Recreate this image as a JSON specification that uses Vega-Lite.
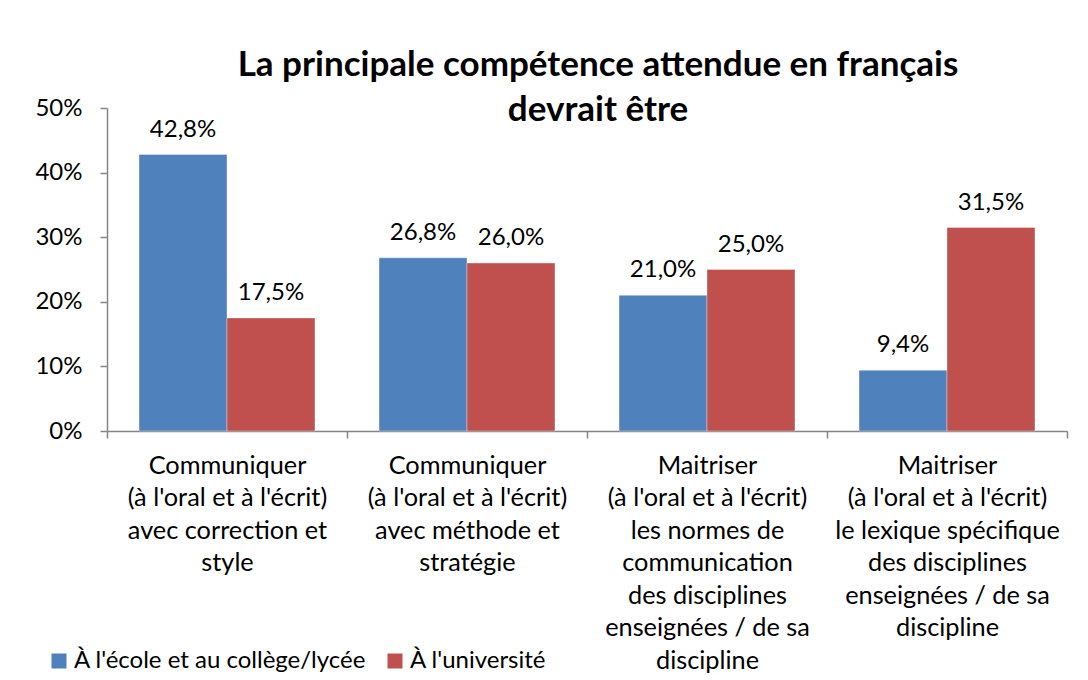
{
  "$schema": "https://vega.github.io/schema/vega-lite/v6.json",
  "autosize": {"type": "none"},
  "padding": {"left": 107, "top": 108, "right": 21, "bottom": 249},
  "width": 960,
  "height": 323,
  "background": "#ffffff",
  "title": {
    "text": ["La principale compétence attendue en français", "devrait être"],
    "anchor": "middle",
    "frame": "group",
    "dx": 11,
    "offset": -32,
    "font": "Lato",
    "fontSize": 35,
    "fontWeight": "bold",
    "color": "#000000",
    "lineHeight": 45
  },
  "data": {
    "values": [
      {"cat": "Communiquer|(à l'oral et à l'écrit)|avec correction et|style", "serie": "À l'école et au collège/lycée", "value": 0.428},
      {"cat": "Communiquer|(à l'oral et à l'écrit)|avec correction et|style", "serie": "À l'université", "value": 0.175},
      {"cat": "Communiquer|(à l'oral et à l'écrit)|avec méthode et|stratégie", "serie": "À l'école et au collège/lycée", "value": 0.268},
      {"cat": "Communiquer|(à l'oral et à l'écrit)|avec méthode et|stratégie", "serie": "À l'université", "value": 0.26},
      {"cat": "Maitriser|(à l'oral et à l'écrit)|les normes de|communication|des disciplines|enseignées / de sa|discipline", "serie": "À l'école et au collège/lycée", "value": 0.21},
      {"cat": "Maitriser|(à l'oral et à l'écrit)|les normes de|communication|des disciplines|enseignées / de sa|discipline", "serie": "À l'université", "value": 0.25},
      {"cat": "Maitriser|(à l'oral et à l'écrit)|le lexique spécifique|des disciplines|enseignées / de sa|discipline", "serie": "À l'école et au collège/lycée", "value": 0.094},
      {"cat": "Maitriser|(à l'oral et à l'écrit)|le lexique spécifique|des disciplines|enseignées / de sa|discipline", "serie": "À l'université", "value": 0.315}
    ]
  },
  "encoding": {
    "x": {
      "field": "cat",
      "type": "nominal",
      "sort": null,
      "scale": {"paddingInner": 0, "paddingOuter": 0},
      "axis": {
        "title": null,
        "labelAngle": 0,
        "labelExpr": "split(datum.label, '|')",
        "labelFont": "Lato",
        "labelFontSize": 25.3,
        "labelColor": "#000000",
        "labelLineHeight": 32.5,
        "labelBaseline": "top",
        "labelPadding": 15,
        "labelLimit": 300,
        "tickBand": "extent",
        "tickSize": 7,
        "tickColor": "#868686",
        "domainColor": "#868686",
        "tickWidth": 1.5,
        "domainWidth": 1.5
      }
    },
    "xOffset": {
      "field": "serie",
      "type": "nominal",
      "sort": null,
      "scale": {"paddingInner": 0, "paddingOuter": 0.364}
    },
    "y": {
      "field": "value",
      "type": "quantitative",
      "scale": {"domain": [0, 0.5], "nice": false},
      "axis": {
        "title": null,
        "values": [0, 0.1, 0.2, 0.3, 0.4, 0.5],
        "format": ".0%",
        "grid": false,
        "labelFont": "Lato",
        "labelFontSize": 24,
        "labelColor": "#000000",
        "labelPadding": 18,
        "tickSize": 7,
        "tickColor": "#868686",
        "domainColor": "#868686",
        "tickWidth": 1.5,
        "domainWidth": 1.5
      }
    }
  },
  "layer": [
    {
      "mark": {"type": "bar", "stroke": "#ffffff", "strokeOpacity": 0.35, "strokeWidth": 1},
      "encoding": {
        "color": {
          "field": "serie",
          "type": "nominal",
          "sort": null,
          "scale": {"range": ["#4F81BD", "#C0504D"]},
          "legend": {
            "title": null,
            "orient": "none",
            "direction": "horizontal",
            "legendX": -60,
            "legendY": 541,
            "symbolType": "square",
            "symbolSize": 225,
            "symbolStrokeWidth": 0,
            "symbolOpacity": 1,
            "labelFont": "Lato",
            "labelFontSize": 24,
            "labelColor": "#000000",
            "labelOffset": 3,
            "labelLimit": 400,
            "columnPadding": 16
          }
        }
      }
    },
    {
      "mark": {"type": "text", "font": "Lato", "fontSize": 24, "color": "#000000", "baseline": "alphabetic", "dy": -18},
      "encoding": {
        "text": {"field": "value", "type": "quantitative", "format": ".1%"}
      }
    }
  ],
  "config": {
    "locale": {
      "number": {"decimal": ",", "thousands": " ", "grouping": [3], "currency": ["", " €"]}
    },
    "view": {"stroke": null}
  }
}
